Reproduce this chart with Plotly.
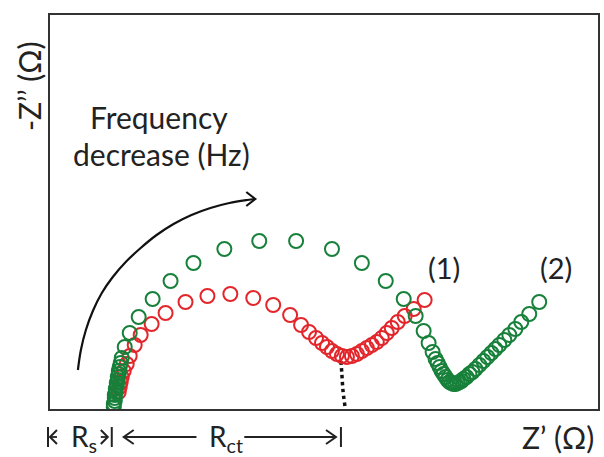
import plotly.graph_objects as go

# Data in arbitrary impedance units (Z' along x, -Z'' along y)
green_zre = [64, 64, 65, 65, 65, 66, 66, 67, 67, 68, 68, 69, 69, 70, 71, 72, 75, 80, 89, 103, 121, 144,
             175, 210, 247, 283, 313, 337, 355, 367, 375, 380, 384, 387, 389, 391, 393, 395, 397, 399,
             401, 403, 405, 407, 409, 411, 413, 415, 418, 421, 424, 427, 431, 435, 439, 443, 447, 451,
             456, 461, 467, 473, 481, 491]
green_zim = [2, 5, 8, 11, 14, 17, 20, 23, 26, 29, 32, 35, 38, 42, 46, 51, 62, 76, 92, 110, 128, 146,
             160, 168, 168, 160, 146, 128, 110, 93, 78, 66, 57, 50, 46, 42, 38, 35, 32, 29,
             27, 26, 25, 25, 26, 27, 28, 30, 32, 35, 37, 40, 44, 48, 52, 56, 60, 64,
             69, 74, 80, 87, 95, 107]

red_zre = [69, 70, 71, 72, 74, 77, 80, 85, 91, 102, 116, 136, 158, 181, 204, 224, 241, 252, 260, 267,
           273, 278, 283, 288, 293, 298, 303, 308, 313, 318, 323, 328, 333, 338, 343, 349, 356, 365, 376]
red_zim = [17, 22, 27, 32, 38, 45, 53, 64, 74, 85, 96, 107, 113, 115, 111, 104, 94, 84, 77, 71,
           66, 62, 58, 55, 53, 52, 53, 55, 58, 61, 64, 67, 71, 76, 81, 87, 93, 100, 109]

extrap_zre = [292, 293, 294, 296]
extrap_zim = [48, 34, 19, 3]

freq_arrow_x = [28, 31, 36, 43, 52, 63, 76, 91, 107, 124, 142, 161, 180, 198, 206]
freq_arrow_y = [39, 59, 79, 98, 116, 132, 147, 161, 174, 185, 194, 201, 206, 209, 210]

# Resistance markers along Z' (start, end of R_s; end of R_ct)
rs_start, rs_end, rct_end = -2, 62, 292

X_MAX, Y_MAX = 550, 394

GREEN = "#17803a"
RED = "#e3262b"
INK = "#222222"
FONT = "Lato"

fig = go.Figure()

fig.add_trace(go.Scatter(x=freq_arrow_x, y=freq_arrow_y, mode="lines",
                         line=dict(color="#111111", width=2.2, shape="spline"),
                         hoverinfo="skip", showlegend=False))
fig.add_trace(go.Scatter(x=extrap_zre, y=extrap_zim, mode="lines",
                         line=dict(color="#111111", width=3.5, dash="dot", shape="spline"),
                         showlegend=False))
fig.add_trace(go.Scatter(x=red_zre, y=red_zim, mode="markers", name="(1)",
                         marker=dict(symbol="circle-open", size=14, color=RED, line=dict(width=2, color=RED)),
                         showlegend=False))
fig.add_trace(go.Scatter(x=green_zre, y=green_zim, mode="markers", name="(2)",
                         marker=dict(symbol="circle-open", size=14, color=GREEN, line=dict(width=2, color=GREEN)),
                         showlegend=False))

ann = []
shapes = []

def px(x):
    return x / X_MAX

def py(y):
    return y / Y_MAX

def text(x, y, t, size=30, angle=0):
    ann.append(dict(x=px(x), y=py(y), xref="paper", yref="paper", text=t, showarrow=False,
                    textangle=angle, xanchor="center", yanchor="middle",
                    font=dict(family=FONT, size=size, color=INK)))

def seg(pts, width=1.8, color=INK):
    path = "M " + " L ".join(f"{px(a):.5f},{py(b):.5f}" for a, b in pts)
    shapes.append(dict(type="path", path=path, xref="paper", yref="paper",
                       line=dict(color=color, width=width), layer="above"))

def chevron(x, y, direction, length=8, half=7, width=1.8, color=INK):
    d = 1 if direction == "right" else -1
    seg([(x - d * length, y + half), (x, y), (x - d * length, y - half)], width, color)

text(109, 292, "Frequency")
text(112, 255, "decrease (Hz)")
text(395, 142, "(1)", size=29)
text(508, 142, "(2)", size=29)
text(-21, 323, "-Z’’ (Ω)", angle=-90)
text(510, -28, "Z’ (Ω)")
text(34, -29, "R<sub>s</sub>", size=28)
text(177, -29, "R<sub>ct</sub>", size=28)

# frequency arrow head
chevron(freq_arrow_x[-1], freq_arrow_y[-1], "right", length=9, half=7, width=2.2, color="#111111")

# R_s and R_ct markers
ym = -28
for xb in (rs_start, rs_end, rct_end):
    seg([(xb, -18), (xb, -38)], width=2)
chevron(rs_start + 2, ym, "left", length=7, half=7, width=2)
seg([(rs_start + 2, ym), (rs_start + 9, ym)])
chevron(rs_end - 4, ym, "right", length=7, half=7, width=2)
seg([(rs_end - 4, ym), (rs_end - 11, ym)])
chevron(rs_end + 12, ym, "left", length=10, half=7, width=2)
seg([(rs_end + 12, ym), (rs_end + 85, ym)])
chevron(rct_end - 5, ym, "right", length=10, half=7, width=2)
seg([(rct_end - 5, ym), (rct_end - 97, ym)])

fig.update_layout(
    width=604, height=457,
    margin=dict(l=50, r=4, t=15, b=48),
    paper_bgcolor="white", plot_bgcolor="white",
    annotations=ann, shapes=shapes,
    xaxis=dict(range=[0, X_MAX], showgrid=False, zeroline=False, showticklabels=False, ticks="",
               showline=True, mirror=True, linecolor="#333333", linewidth=2),
    yaxis=dict(range=[0, Y_MAX], showgrid=False, zeroline=False, showticklabels=False, ticks="",
               showline=True, mirror=True, linecolor="#333333", linewidth=2),
)

fig.write_html("out.html")
